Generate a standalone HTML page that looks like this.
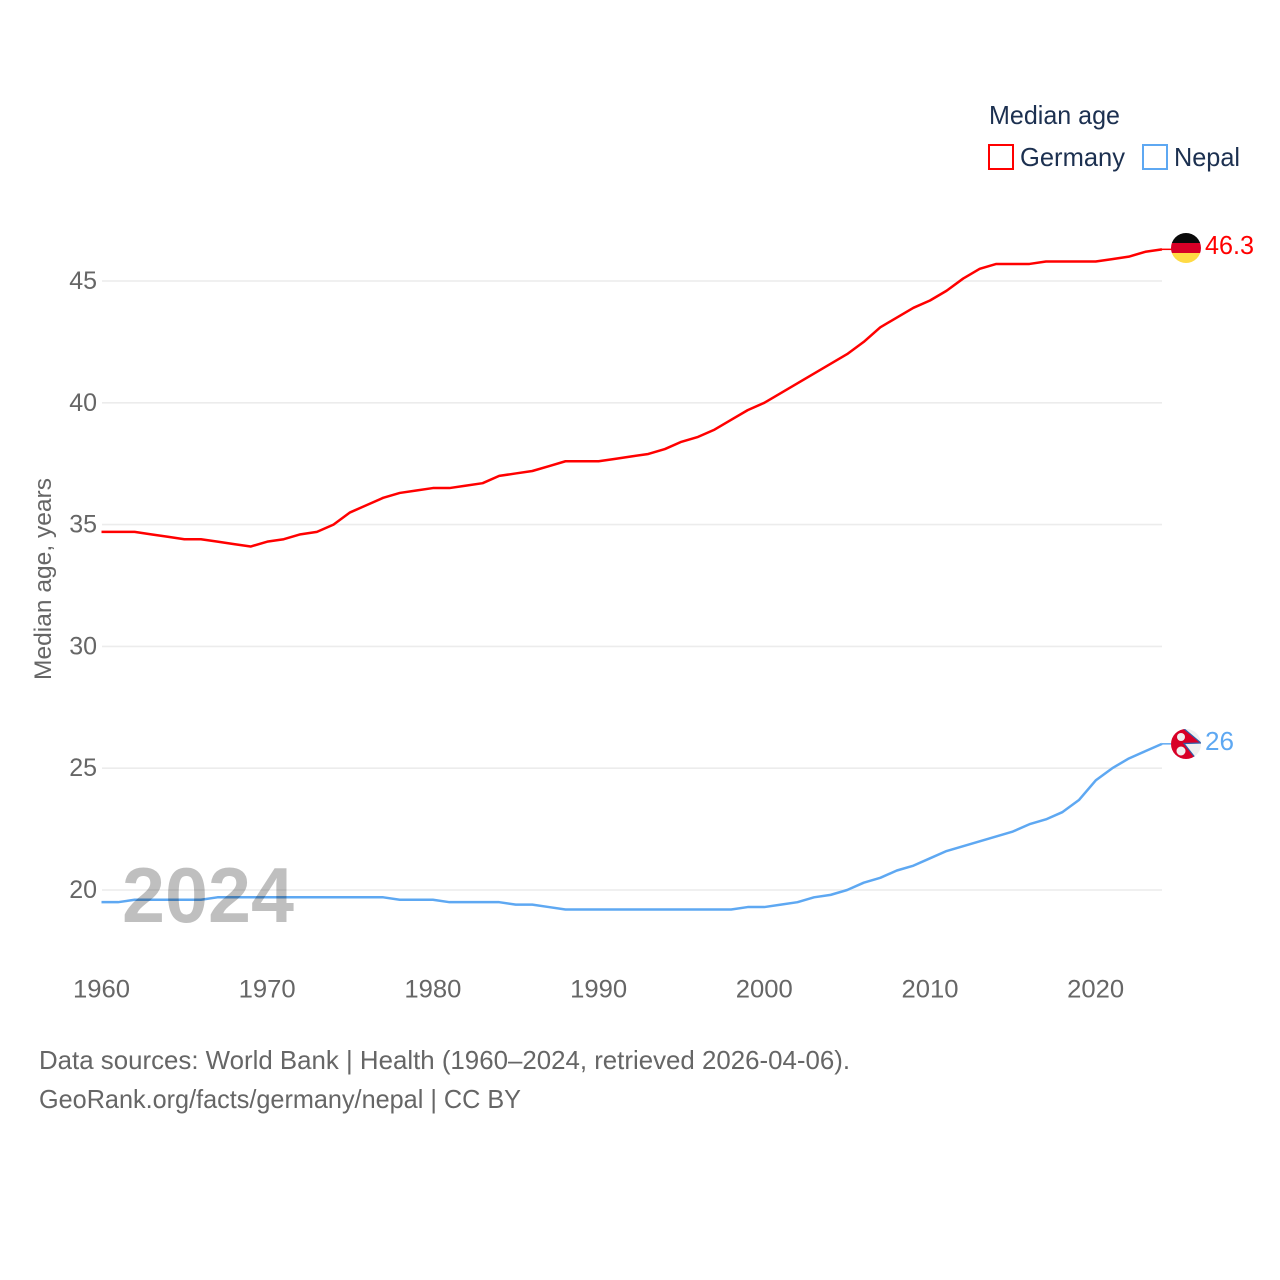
<!DOCTYPE html>
<html lang="en">
<head>
<meta charset="utf-8">
<title>Median age: Germany and Nepal</title>
<style>
html,body{margin:0;padding:0;background:#fff;width:1280px;height:1280px;overflow:hidden}
svg{display:block}
text{font-family:"Liberation Sans",sans-serif}
</style>
</head>
<body>
<svg id="chart" width="1280" height="1280" viewBox="0 0 1280 1280" xmlns="http://www.w3.org/2000/svg">
  <g id="grid"></g>
  <g id="yticks"></g>
  <g id="xticks"></g>
  <text transform="translate(51,680) rotate(-90)" font-size="24" fill="#666" textLength="202" lengthAdjust="spacingAndGlyphs">Median age, years</text>
  <g id="lines"></g>
  <text x="122" y="922" font-size="78" font-weight="bold" fill="#000" fill-opacity="0.25" textLength="172" lengthAdjust="spacingAndGlyphs">2024</text>

  <g>
    <text x="989" y="124" font-size="26" fill="#1c3050" textLength="131" lengthAdjust="spacingAndGlyphs">Median age</text>
    <g>
      <rect x="989" y="145" width="24" height="24" fill="#fff" stroke="#ff0000" stroke-width="2"/>
      <text x="1020" y="166" font-size="26" fill="#1c3050" textLength="105" lengthAdjust="spacingAndGlyphs">Germany</text>
    </g>
    <g>
      <rect x="1143" y="145" width="24" height="24" fill="#fff" stroke="#5ea8f2" stroke-width="2"/>
      <text x="1174" y="166" font-size="26" fill="#1c3050" textLength="66" lengthAdjust="spacingAndGlyphs">Nepal</text>
    </g>
  </g>

  <defs>
    <clipPath id="clip-de"><circle cx="1186" cy="248" r="15"/></clipPath>
    <clipPath id="clip-np"><circle cx="1186" cy="744" r="15"/></clipPath>
  </defs>
  <g id="flag-germany" clip-path="url(#clip-de)">
    <rect x="1170" y="233" width="32" height="10" fill="#0a0a0a"/>
    <rect x="1170" y="243" width="32" height="10" fill="#d80027"/>
    <rect x="1170" y="253" width="32" height="10" fill="#ffda44"/>
  </g>
  <g id="flag-nepal" clip-path="url(#clip-np)">
    <rect x="1170" y="729" width="32" height="30" fill="#f0f0f0"/>
    <path d="M1170 717 L1201 743 L1184 743.5 L1197 760 L1170 760 Z" fill="#d80027" stroke="#2f5fa8" stroke-width="1.2"/>
    <circle cx="1181" cy="737" r="4" fill="#f0f0f0"/>
    <circle cx="1181" cy="751" r="4.5" fill="#f0f0f0"/>
  </g>
  <text id="label-germany" x="1205" y="254" font-size="26" fill="#ff0000" textLength="49" lengthAdjust="spacingAndGlyphs">46.3</text>
  <text id="label-nepal" x="1205" y="750" font-size="26" fill="#5ea8f2" textLength="29" lengthAdjust="spacingAndGlyphs">26</text>

  <text x="39" y="1069" font-size="26" fill="#666" textLength="811" lengthAdjust="spacingAndGlyphs">Data sources: World Bank | Health (1960–2024, retrieved 2026-04-06).</text>
  <text x="39" y="1108" font-size="26" fill="#666" textLength="482" lengthAdjust="spacingAndGlyphs">GeoRank.org/facts/germany/nepal | CC BY</text>
</svg>
<script>
var startYear = 1960;
var germany = [34.7,34.7,34.7,34.6,34.5,34.4,34.4,34.3,34.2,34.1,34.3,34.4,34.6,34.7,35.0,35.5,35.8,36.1,36.3,36.4,36.5,36.5,36.6,36.7,37.0,37.1,37.2,37.4,37.6,37.6,37.6,37.7,37.8,37.9,38.1,38.4,38.6,38.9,39.3,39.7,40.0,40.4,40.8,41.2,41.6,42.0,42.5,43.1,43.5,43.9,44.2,44.6,45.1,45.5,45.7,45.7,45.7,45.8,45.8,45.8,45.8,45.9,46.0,46.2,46.3];
var nepal = [19.5,19.5,19.6,19.6,19.6,19.6,19.6,19.7,19.7,19.7,19.7,19.7,19.7,19.7,19.7,19.7,19.7,19.7,19.6,19.6,19.6,19.5,19.5,19.5,19.5,19.4,19.4,19.3,19.2,19.2,19.2,19.2,19.2,19.2,19.2,19.2,19.2,19.2,19.2,19.3,19.3,19.4,19.5,19.7,19.8,20.0,20.3,20.5,20.8,21.0,21.3,21.6,21.8,22.0,22.2,22.4,22.7,22.9,23.2,23.7,24.5,25.0,25.4,25.7,26.0];
var yTickValues = [20,25,30,35,40,45];
var xTickValues = [1960,1970,1980,1990,2000,2010,2020];

var NS = 'http://www.w3.org/2000/svg';
function xScale(year){ return 101.5 + (year - 1960) * 16.57; }
function yScale(v){ return 890 - (v - 20) * 24.36; }

var gridG = document.getElementById('grid');
var yG = document.getElementById('yticks');
var xG = document.getElementById('xticks');
var linesG = document.getElementById('lines');

yTickValues.forEach(function(v){
  var l = document.createElementNS(NS,'line');
  
  
  l.setAttribute('x1', 102);
  l.setAttribute('x2', 1162);
  l.setAttribute('y1', yScale(v));
  l.setAttribute('y2', yScale(v));
  l.setAttribute('stroke', '#ececec');
  l.setAttribute('stroke-width', 1.6);
  gridG.appendChild(l);
  var t = document.createElementNS(NS,'text');
  
  
  t.setAttribute('x', 97);
  t.setAttribute('y', yScale(v) + 8);
  t.setAttribute('text-anchor', 'end');
  t.setAttribute('font-size', 25);
  t.setAttribute('fill', '#666');
  t.textContent = v;
  yG.appendChild(t);
});

xTickValues.forEach(function(y){
  var t = document.createElementNS(NS,'text');
  
  
  t.setAttribute('x', xScale(y));
  t.setAttribute('y', 997.5);
  t.setAttribute('text-anchor', 'middle');
  t.setAttribute('font-size', 25);
  t.setAttribute('fill', '#666');
  t.setAttribute('textLength', 57);
  t.setAttribute('lengthAdjust', 'spacingAndGlyphs');
  t.textContent = y;
  xG.appendChild(t);
});

function pathFor(values){
  return values.map(function(v,i){
    return (i ? 'L' : 'M') + xScale(startYear + i).toFixed(2) + ' ' + yScale(v).toFixed(2);
  }).join(' ');
}

function addConnector(values, color, name){
  var last = values[values.length - 1];
  var c = document.createElementNS(NS,'line');
  
  
  c.setAttribute('x1', xScale(startYear + values.length - 1));
  c.setAttribute('x2', 1172);
  c.setAttribute('y1', yScale(last));
  c.setAttribute('y2', yScale(last));
  c.setAttribute('stroke', color);
  c.setAttribute('stroke-width', 1.5);
  linesG.appendChild(c);
}

var germanyLine = document.createElementNS(NS,'path');


germanyLine.setAttribute('d', pathFor(germany));
germanyLine.setAttribute('fill', 'none');
germanyLine.setAttribute('stroke', '#ff0000');
germanyLine.setAttribute('stroke-width', 2.5);
germanyLine.setAttribute('stroke-linejoin', 'round');
linesG.appendChild(germanyLine);
addConnector(germany, '#ff0000', 'germany-label-connector');

var nepalLine = document.createElementNS(NS,'path');


nepalLine.setAttribute('d', pathFor(nepal));
nepalLine.setAttribute('fill', 'none');
nepalLine.setAttribute('stroke', '#5ea8f2');
nepalLine.setAttribute('stroke-width', 2.5);
nepalLine.setAttribute('stroke-linejoin', 'round');
linesG.appendChild(nepalLine);
addConnector(nepal, '#5ea8f2', 'nepal-label-connector');
</script>
</body>
</html>
